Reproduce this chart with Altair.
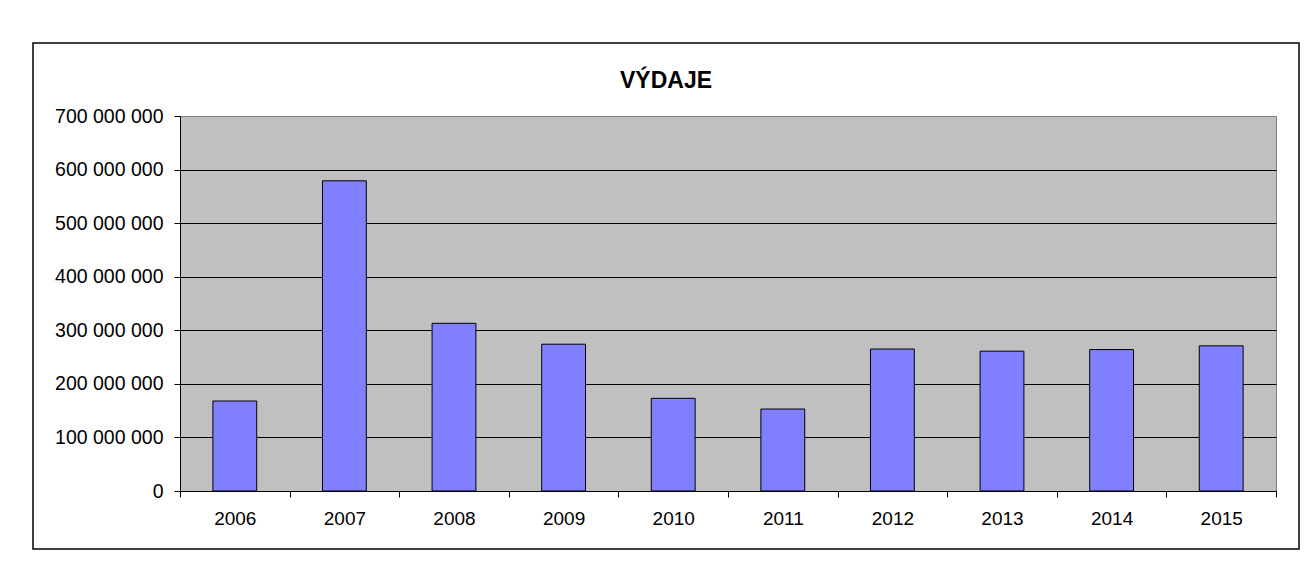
import altair as alt
import pandas as pd

years = ["2006", "2007", "2008", "2009", "2010", "2011", "2012", "2013", "2014", "2015"]
vydaje = [168000000, 579000000, 313000000, 274000000, 173000000, 153000000,
          265000000, 261000000, 264000000, 271000000]

df = pd.DataFrame({"rok": years, "vydaje": vydaje})

W, H = 1096, 375

bars = alt.Chart(df).mark_bar(
    width=alt.RelativeBandSize(0.4), fill="#8080FF", stroke="black", strokeWidth=1
).encode(
    x=alt.X("rok:N", sort=years, title=None,
            scale=alt.Scale(paddingInner=0, paddingOuter=0),
            axis=alt.Axis(labelAngle=0, tickBand="extent", tickSize=6, tickColor="black",
                          domainColor="black", labelPadding=12, labelFontSize=19,
                          labelFont="Liberation Sans", labelColor="black", grid=False)),
    y=alt.Y("vydaje:Q", title=None,
            scale=alt.Scale(domain=[0, 700000000], nice=False),
            axis=alt.Axis(values=[i * 100000000 for i in range(8)], format=",d",
                          tickSize=6, tickColor="black", domainColor="black",
                          labelPadding=11, labelFontSize=19.5, labelFont="Liberation Sans",
                          labelColor="black", grid=True,
                          gridColor=alt.condition("datum.value >= 700000000",
                                                  alt.value("#808080"), alt.value("black")),
                          gridOpacity=1, gridWidth=1)),
)

frame = alt.Chart(alt.Data(values=[{"a": 1}])).mark_rect(
    fill=None, stroke="black", strokeWidth=1.5
).encode(
    x=alt.value(-147), x2=alt.value(W + 23), y=alt.value(-73), y2=alt.value(H + 58)
)

chart = alt.layer(frame, bars).properties(
    width=W, height=H,
    title=alt.TitleParams("VÝDAJE", font="Liberation Sans", fontSize=23, fontWeight="bold",
                          color="black", anchor="middle", dx=-62, offset=-69,
                          baseline="alphabetic"),
    autosize=alt.AutoSizeParams(type="none"),
    padding={"left": 172, "top": 108, "right": 26, "bottom": 60},
).configure(
    background="white",
    locale=alt.Locale(number={"decimal": ",", "thousands": " ", "grouping": [3],
                              "currency": ["", ""]}),
).configure_view(
    fill="#C0C0C0", stroke="#808080", strokeWidth=1
)

chart.save("out.html", embed_options={"renderer": "svg", "actions": False})
